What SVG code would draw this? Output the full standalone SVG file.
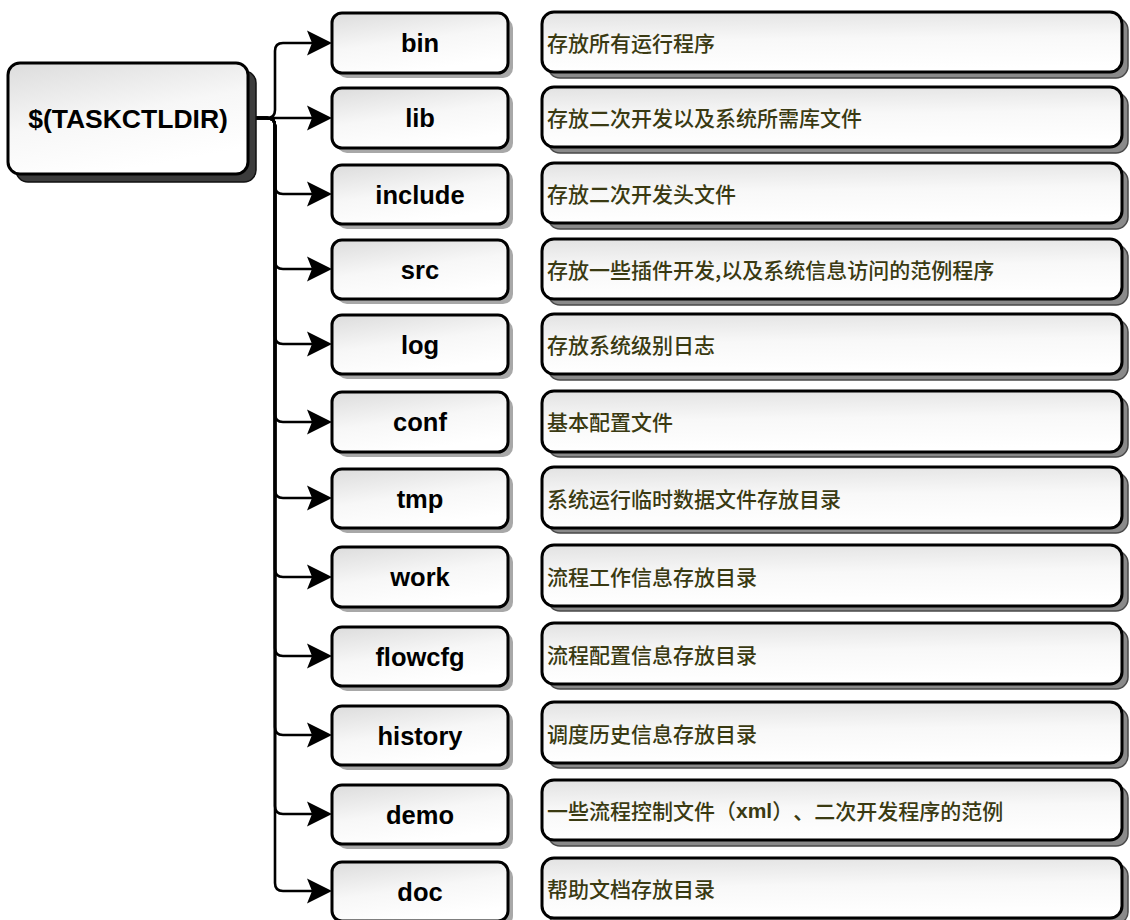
<svg xmlns="http://www.w3.org/2000/svg" width="1130" height="920" viewBox="0 0 1130 920">
<defs>
<linearGradient id="g" x1="0" y1="0" x2="0.4" y2="1">
<stop offset="0" stop-color="#dcdcdc"/>
<stop offset="0.55" stop-color="#f7f7f7"/>
<stop offset="1" stop-color="#ffffff"/>
</linearGradient>
<linearGradient id="gd" x1="0" y1="0" x2="0.12" y2="1">
<stop offset="0" stop-color="#e2e2e2"/>
<stop offset="0.5" stop-color="#f8f8f8"/>
<stop offset="1" stop-color="#ffffff"/>
</linearGradient>
<marker id="arr" markerUnits="userSpaceOnUse" markerWidth="30" markerHeight="30" viewBox="-2 -14 30 28" refX="5" refY="0" orient="auto">
<path d="M0,-12.5 L25,0 L0,12.5 L5,0 Z" fill="#000"/>
</marker>
</defs>
<style>
.box{fill:url(#g);stroke:#000;stroke-width:3}
.dbox{fill:url(#gd);stroke:#000;stroke-width:3}
.sh{fill:#a8a8a8}
.dsh{fill:#8a8a8a;stroke:#4a4a4a;stroke-width:1.5}
.rsh{fill:#3c3c3c;stroke:#111;stroke-width:1.5}
.lbl{font-family:"Liberation Sans",Arial,sans-serif;font-weight:bold;font-size:25.5px;fill:#000;text-anchor:middle;dominant-baseline:central}
.desc{font-family:"Noto Sans CJK SC","Noto Sans",sans-serif;font-size:21px;font-weight:500;fill:#3a3a12;dominant-baseline:central;text-spacing-trim:space-all;font-feature-settings:"chws" 0,"halt" 0}
.c{fill:none;stroke:#000;stroke-width:2.6;marker-end:url(#arr)}
</style>

<g id="connectors">
<path class="c" d="M248,118 H267 Q275,118 275,110 V51 Q275,43 283,43 H312"/>
<path class="c" d="M248,118 H312"/>
<path class="c" d="M248,118 H267 Q275,118 275,126 V186 Q275,194 283,194 H312"/>
<path class="c" d="M248,118 H267 Q275,118 275,126 V261 Q275,269 283,269 H312"/>
<path class="c" d="M248,118 H267 Q275,118 275,126 V336 Q275,344 283,344 H312"/>
<path class="c" d="M248,118 H267 Q275,118 275,126 V414 Q275,422 283,422 H312"/>
<path class="c" d="M248,118 H267 Q275,118 275,126 V490 Q275,498 283,498 H312"/>
<path class="c" d="M248,118 H267 Q275,118 275,126 V569 Q275,577 283,577 H312"/>
<path class="c" d="M248,118 H267 Q275,118 275,126 V648 Q275,656 283,656 H312"/>
<path class="c" d="M248,118 H267 Q275,118 275,126 V727 Q275,735 283,735 H312"/>
<path class="c" d="M248,118 H267 Q275,118 275,126 V806 Q275,814 283,814 H312"/>
<path class="c" d="M248,118 H267 Q275,118 275,126 V883 Q275,891 283,891 H312"/>
</g>

<g id="root">
<rect class="rsh" x="16" y="71" width="240" height="111" rx="12"/>
<rect class="box" x="8" y="63" width="240" height="111" rx="12"/>
<text class="lbl" x="128" y="118.5" style="font-size:26.5px">$(TASKCTLDIR)</text>
</g>

<g id="bin">
<rect class="sh" x="337" y="18" width="176" height="60" rx="10"/>
<rect class="box" x="332" y="13" width="176" height="60" rx="10"/>
<text class="lbl" x="420" y="43">bin</text>
</g>
<g id="lib">
<rect class="sh" x="337" y="93" width="176" height="60" rx="10"/>
<rect class="box" x="332" y="88" width="176" height="60" rx="10"/>
<text class="lbl" x="420" y="118">lib</text>
</g>
<g id="include">
<rect class="sh" x="337" y="170" width="176" height="59" rx="10"/>
<rect class="box" x="332" y="165" width="176" height="59" rx="10"/>
<text class="lbl" x="420" y="194.5">include</text>
</g>
<g id="src">
<rect class="sh" x="337" y="245" width="176" height="59" rx="10"/>
<rect class="box" x="332" y="240" width="176" height="59" rx="10"/>
<text class="lbl" x="420" y="269.5">src</text>
</g>
<g id="log">
<rect class="sh" x="337" y="320" width="176" height="59" rx="10"/>
<rect class="box" x="332" y="315" width="176" height="59" rx="10"/>
<text class="lbl" x="420" y="344.5">log</text>
</g>
<g id="conf">
<rect class="sh" x="337" y="397" width="176" height="60" rx="10"/>
<rect class="box" x="332" y="392" width="176" height="60" rx="10"/>
<text class="lbl" x="420" y="422">conf</text>
</g>
<g id="tmp">
<rect class="sh" x="337" y="474" width="176" height="59" rx="10"/>
<rect class="box" x="332" y="469" width="176" height="59" rx="10"/>
<text class="lbl" x="420" y="498.5">tmp</text>
</g>
<g id="work">
<rect class="sh" x="337" y="552" width="176" height="60" rx="10"/>
<rect class="box" x="332" y="547" width="176" height="60" rx="10"/>
<text class="lbl" x="420" y="577">work</text>
</g>
<g id="flowcfg">
<rect class="sh" x="337" y="632" width="176" height="59" rx="10"/>
<rect class="box" x="332" y="627" width="176" height="59" rx="10"/>
<text class="lbl" x="420" y="656.5">flowcfg</text>
</g>
<g id="history">
<rect class="sh" x="337" y="711" width="176" height="59" rx="10"/>
<rect class="box" x="332" y="706" width="176" height="59" rx="10"/>
<text class="lbl" x="420" y="735.5">history</text>
</g>
<g id="demo">
<rect class="sh" x="337" y="790" width="176" height="59" rx="10"/>
<rect class="box" x="332" y="785" width="176" height="59" rx="10"/>
<text class="lbl" x="420" y="814.5">demo</text>
</g>
<g id="doc">
<rect class="sh" x="337" y="867" width="176" height="59" rx="10"/>
<rect class="box" x="332" y="862" width="176" height="59" rx="10"/>
<text class="lbl" x="420" y="891.5">doc</text>
</g>

<g id="desc-bin">
<rect class="dsh" x="548" y="18" width="580" height="60" rx="12"/>
<rect class="dbox" x="542" y="12" width="580" height="60" rx="12"/>
<text class="desc" x="547" y="42">存放所有运行程序</text>
</g>
<g id="desc-lib">
<rect class="dsh" x="548" y="93" width="580" height="60" rx="12"/>
<rect class="dbox" x="542" y="87" width="580" height="60" rx="12"/>
<text class="desc" x="547" y="117">存放二次开发以及系统所需库文件</text>
</g>
<g id="desc-include">
<rect class="dsh" x="548" y="169" width="580" height="60" rx="12"/>
<rect class="dbox" x="542" y="163" width="580" height="60" rx="12"/>
<text class="desc" x="547" y="193">存放二次开发头文件</text>
</g>
<g id="desc-src">
<rect class="dsh" x="548" y="245" width="580" height="60" rx="12"/>
<rect class="dbox" x="542" y="239" width="580" height="60" rx="12"/>
<text class="desc" x="547" y="269">存放一些插件开发,以及系统信息访问的范例程序</text>
</g>
<g id="desc-log">
<rect class="dsh" x="548" y="320" width="580" height="60" rx="12"/>
<rect class="dbox" x="542" y="314" width="580" height="60" rx="12"/>
<text class="desc" x="547" y="344">存放系统级别日志</text>
</g>
<g id="desc-conf">
<rect class="dsh" x="548" y="397" width="580" height="60" rx="12"/>
<rect class="dbox" x="542" y="391" width="580" height="61" rx="12"/>
<text class="desc" x="547" y="421">基本配置文件</text>
</g>
<g id="desc-tmp">
<rect class="dsh" x="548" y="473" width="580" height="60" rx="12"/>
<rect class="dbox" x="542" y="467" width="580" height="61" rx="12"/>
<text class="desc" x="547" y="497.5">系统运行临时数据文件存放目录</text>
</g>
<g id="desc-work">
<rect class="dsh" x="548" y="551" width="580" height="60" rx="12"/>
<rect class="dbox" x="542" y="545" width="580" height="61" rx="12"/>
<text class="desc" x="547" y="575.5">流程工作信息存放目录</text>
</g>
<g id="desc-flowcfg">
<rect class="dsh" x="548" y="629" width="580" height="60" rx="12"/>
<rect class="dbox" x="542" y="623" width="580" height="61" rx="12"/>
<text class="desc" x="547" y="653.5">流程配置信息存放目录</text>
</g>
<g id="desc-history">
<rect class="dsh" x="548" y="708" width="580" height="60" rx="12"/>
<rect class="dbox" x="542" y="702" width="580" height="61" rx="12"/>
<text class="desc" x="547" y="732.5">调度历史信息存放目录</text>
</g>
<g id="desc-demo">
<rect class="dsh" x="548" y="786" width="580" height="60" rx="12"/>
<rect class="dbox" x="542" y="780" width="580" height="60" rx="12"/>
<text class="desc" x="547" y="810">一些流程控制文件（<tspan font-family="Liberation Sans, Arial, sans-serif" font-weight="bold">xml</tspan>）、二次开发程序的范例</text>
</g>
<g id="desc-doc">
<rect class="dsh" x="548" y="864" width="580" height="60" rx="12"/>
<rect class="dbox" x="542" y="858" width="580" height="60" rx="12"/>
<text class="desc" x="547" y="888">帮助文档存放目录</text>
</g>
</svg>
